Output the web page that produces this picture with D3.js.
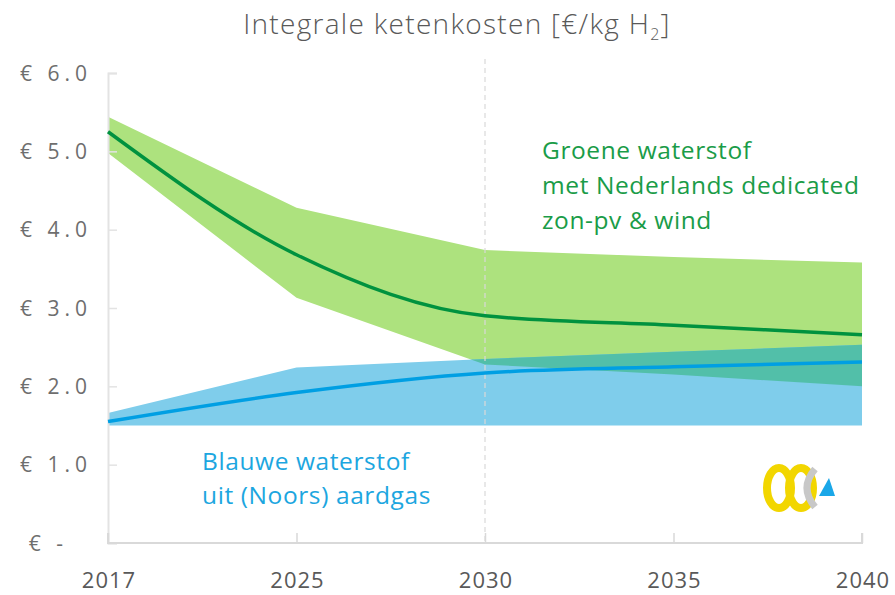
<!DOCTYPE html>
<html>
<head>
<meta charset="utf-8">
<script src="https://cdn.jsdelivr.net/npm/d3@7"></script>
<style>
  body { margin: 0; background: #fff; }
  svg text { font-family: "Open Sans", Lato, sans-serif; }
</style>
</head>
<body>
<div id="chart"></div>
<script>
// Data
var years = ["2017", "2025", "2030", "2035", "2040"];
var greenMid = [5.25, 3.68, 2.90, 2.78, 2.66];
var greenHigh = [5.44, 4.28, 3.74, 3.65, 3.58];
var greenLow = [4.98, 3.13, 2.28, 2.15, 2.00];
var blueMid = [1.55, 1.92, 2.17, 2.25, 2.31];
var blueHigh = [1.66, 2.24, 2.35, 2.44, 2.53];
var blueLow = [1.50, 1.50, 1.50, 1.50, 1.50];
var yTicks = [0, 1, 2, 3, 4, 5, 6];

var svgWidth = 895;
var svgHeight = 595;

var margin = { top: 73, right: 33, bottom: 52, left: 108 };
var width = svgWidth - margin.left - margin.right;
var height = svgHeight - margin.top - margin.bottom;

var svg = d3.select("#chart")
  .append("svg")
  .attr("width", svgWidth)
  .attr("height", svgHeight);

var thefigure = svg.append("g")
  .attr("transform", `translate(${margin.left}, ${margin.top})`);

var table = years.map(function(yr, i) {
  return { year: yr, gm: greenMid[i], gh: greenHigh[i], gl: greenLow[i],
           bm: blueMid[i], bh: blueHigh[i], bl: blueLow[i] };
});

// Scales
var xScale = d3.scalePoint()
  .domain(years)
  .range([0, width]);

var yScale = d3.scaleLinear()
  .domain([0, 6])
  .range([height, 0]);

// Title
var title = svg.append("text")
  .attr("x", 457)
  .attr("y", 34)
  .attr("text-anchor", "middle")
  .style("font-size", "28px")
  .style("font-weight", 300)
  .style("letter-spacing", "1.3px")
  .attr("fill", "#595959");
title.append("tspan").text("Integrale ketenkosten [€/kg H");
title.append("tspan").attr("dy", 6).style("font-size", "16px").text("2");
title.append("tspan").attr("dy", -6).text("]");

// Bands
var greenArea = d3.area()
  .x(d => xScale(d.year))
  .y0(d => yScale(d.gl))
  .y1(d => yScale(d.gh));
var blueArea = d3.area()
  .x(d => xScale(d.year))
  .y0(d => yScale(d.bl))
  .y1(d => yScale(d.bh));

thefigure.append("clipPath")
  .attr("id", "greenClip")
  .append("path")
  .attr("d", greenArea(table));

thefigure.append("path")
  .attr("d", greenArea(table))
  .attr("fill", "#ade27e");
thefigure.append("path")
  .attr("d", blueArea(table))
  .attr("fill", "#7fcdeb");
// overlap of both bands
thefigure.append("path")
  .attr("d", blueArea(table))
  .attr("clip-path", "url(#greenClip)")
  .attr("fill", "#52bfa9");

// Axes
var leftAxis = d3.axisRight(yScale)
  .tickValues(yTicks)
  .tickSize(9)
  .tickFormat("");
var yAxisG = thefigure.append("g").call(leftAxis);
yAxisG.select(".domain").attr("stroke", "#e3e3e3").attr("stroke-width", 2);
yAxisG.selectAll(".tick line").attr("stroke", "#e3e3e3").attr("stroke-width", 1.5);

var bottomAxis = d3.axisTop(xScale)
  .tickSize(10)
  .tickFormat("");
var xAxisG = thefigure.append("g")
  .attr("transform", `translate(0, ${height})`)
  .call(bottomAxis);
xAxisG.select(".domain").attr("stroke", "#d9d9d9").attr("stroke-width", 2)
  .attr("d", `M0,-10V0H${width}V-10`);
xAxisG.selectAll(".tick line").attr("stroke", "#d9d9d9").attr("stroke-width", 1.5);

// y tick labels
thefigure.append("g")
  .selectAll("text")
  .data(yTicks)
  .enter()
  .append("text")
  .attr("x", d => d === 0 ? -40 : -16)
  .attr("y", d => yScale(d))
  .attr("dy", "0.36em")
  .attr("text-anchor", "end")
  .style("font-size", "21px")
  .style("letter-spacing", "5px")
  .attr("fill", "#6e6e6e")
  .text(d => d === 0 ? "€ -" : "€ " + d.toFixed(1));

// x tick labels
thefigure.append("g")
  .selectAll("text")
  .data(years)
  .enter()
  .append("text")
  .attr("x", d => xScale(d) + 1)
  .attr("y", height + 45)
  .attr("text-anchor", "middle")
  .style("font-size", "22px")
  .style("letter-spacing", "1px")
  .attr("fill", "#595959")
  .text(d => d);

// dashed marker at 2030
thefigure.append("line")
  .attr("x1", xScale("2030"))
  .attr("x2", xScale("2030"))
  .attr("y1", -14)
  .attr("y2", height)
  .attr("stroke", "#d9d9d9")
  .attr("stroke-opacity", 0.6)
  .attr("stroke-width", 2)
  .attr("stroke-dasharray", "5,4");

// Lines
var greenLine = d3.line()
  .x(d => xScale(d.year))
  .y(d => yScale(d.gm))
  .curve(d3.curveMonotoneX);
var blueLine = d3.line()
  .x(d => xScale(d.year))
  .y(d => yScale(d.bm))
  .curve(d3.curveMonotoneX);

thefigure.append("path")
  .attr("d", greenLine(table))
  .attr("fill", "none")
  .attr("stroke", "#00923f")
  .attr("stroke-width", 3.5);
thefigure.append("path")
  .attr("d", blueLine(table))
  .attr("fill", "none")
  .attr("stroke", "#009fe3")
  .attr("stroke-width", 3.5);

// Annotations
var greenText = ["Groene waterstof", "met Nederlands dedicated", "zon-pv & wind"];
var blueText = ["Blauwe waterstof", "uit (Noors) aardgas"];

svg.append("g")
  .selectAll("text")
  .data(greenText)
  .enter()
  .append("text")
  .attr("x", 542)
  .attr("y", (d, i) => 159 + i * 35)
  .style("font-size", "24.5px")
  .style("letter-spacing", "0.6px")
  .attr("fill", "#1a9c48")
  .text(d => d);

svg.append("g")
  .selectAll("text")
  .data(blueText)
  .enter()
  .append("text")
  .attr("x", 202)
  .attr("y", (d, i) => 470 + i * 34)
  .style("font-size", "24.5px")
  .style("letter-spacing", "0.6px")
  .attr("fill", "#1ca6e0")
  .text(d => d);

// Small logo in the corner
var logo = svg.append("g").attr("transform", "translate(797, 488)");
logo.append("ellipse").attr("cx", -18).attr("cy", 0).attr("rx", 12).attr("ry", 20)
  .attr("fill", "none").attr("stroke", "#f2d600").attr("stroke-width", 8);
logo.append("ellipse").attr("cx", 4).attr("cy", 0).attr("rx", 12).attr("ry", 20)
  .attr("fill", "none").attr("stroke", "#f2d600").attr("stroke-width", 8);
logo.append("path")
  .attr("d", "M18,-19 Q2,0 18,19")
  .attr("fill", "none").attr("stroke", "#c8c8c8").attr("stroke-width", 7);
logo.append("path")
  .attr("d", "M22,8 L38,8 L32,-10 Z")
  .attr("fill", "#1aa7e8");
</script>
</body>
</html>
